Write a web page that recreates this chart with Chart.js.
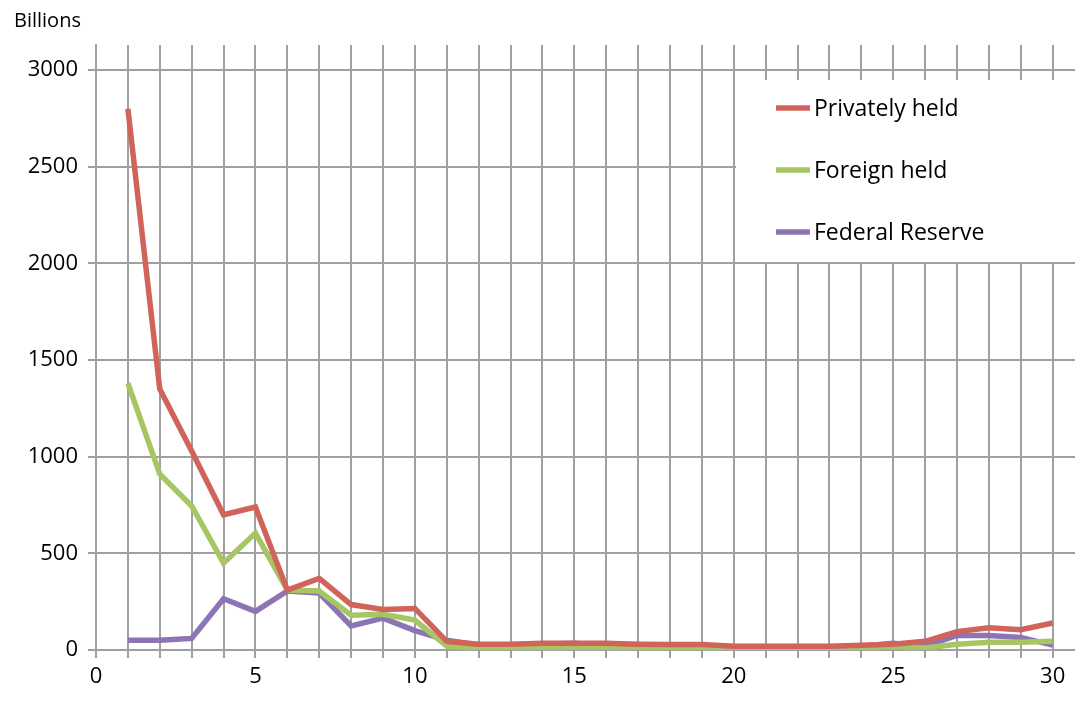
<!DOCTYPE html>
<html>
<head>
<meta charset="utf-8">
<script src="https://cdn.jsdelivr.net/npm/chart.js@4"></script>
<style>
  html, body { margin: 0; padding: 0; background: #fff; }
  #wrap { width: 1075px; height: 706px; position: relative; }
</style>
</head>
<body>
<div id="wrap"><canvas id="c"></canvas></div>
<script>
// 橫軸：年期 1..30
const years = Array.from({ length: 30 }, (_, i) => i + 1);
const privatelyHeld = [2800, 1350, 1030, 700, 740, 310, 370, 235, 210, 215, 45, 30, 30, 35, 35, 35, 30, 28, 28, 20, 20, 20, 20, 25, 30, 45, 95, 115, 105, 140];
const foreignHeld = [1380, 910, 745, 450, 605, 310, 305, 180, 185, 155, 20, 10, 10, 10, 10, 10, 10, 10, 10, 10, 10, 10, 10, 10, 20, 10, 30, 40, 40, 45];
const federalReserve = [50, 50, 60, 265, 200, 305, 295, 125, 165, 100, 50, 25, 25, 30, 35, 20, 20, 20, 15, 15, 15, 15, 15, 20, 35, 20, 75, 75, 65, 25];
const yTicks = [0, 500, 1000, 1500, 2000, 2500, 3000];
const xTicks = [0, 5, 10, 15, 20, 25, 30];

const FONT = '"Open Sans", "Liberation Sans", sans-serif';

function toPoints(arr) {
    return arr.map((v, i) => ({ x: years[i], y: v }));
}

// 自訂圖例與座標軸標題
const extras = {
    id: 'extras',
    afterDraw(chart) {
        const ctx = chart.ctx;
        ctx.save();
        ctx.font = '20px ' + FONT;
        ctx.fillStyle = '#000';
        ctx.textBaseline = 'middle';
        ctx.fillText('Billions', 14, 21);

        // 圖例
        ctx.fillStyle = '#fff';
        ctx.fillRect(736, 80, 339, 182);
        ctx.font = '23px ' + FONT;
        chart.data.datasets.forEach((ds, i) => {
            const y = 108 + i * 62;
            ctx.strokeStyle = ds.borderColor;
            ctx.lineWidth = 5.5;
            ctx.beginPath();
            ctx.moveTo(776, y);
            ctx.lineTo(810, y);
            ctx.stroke();
            ctx.fillStyle = '#000';
            ctx.fillText(ds.label, 814, y + 1);
        });
        ctx.restore();
    }
};

new Chart(document.getElementById('c'), {
    type: 'line',
    data: {
        datasets: [
            { label: 'Privately held', data: toPoints(privatelyHeld), borderColor: '#d0635a' },
            { label: 'Foreign held', data: toPoints(foreignHeld), borderColor: '#a6c663' },
            { label: 'Federal Reserve', data: toPoints(federalReserve), borderColor: '#8d74b3' }
        ].map(d => Object.assign(d, { borderWidth: 5.5, pointRadius: 0, tension: 0, fill: false }))
    },
    options: {
        responsive: true,
        maintainAspectRatio: false,
        animation: false,
        layout: { padding: { top: 45, right: 0, left: 0, bottom: 0 } },
        plugins: { legend: { display: false }, tooltip: { enabled: false } },
        scales: {
            x: {
                type: 'linear',
                min: 0,
                max: 30.7,
                afterBuildTicks: axis => {
                    axis.ticks = Array.from({ length: 31 }, (_, i) => ({ value: i }));
                },
                afterFit: axis => { axis.height = 56; },
                ticks: {
                    autoSkip: false,
                    maxRotation: 0,
                    color: '#000',
                    font: { size: 22, family: FONT },
                    padding: 6,
                    callback: v => (xTicks.includes(v) ? String(v) : '')
                },
                grid: { color: '#a0a0a0', lineWidth: 2, tickLength: 8, drawTicks: true },
                border: { color: '#a0a0a0', width: 2 }
            },
            y: {
                min: 0,
                max: 3130,
                afterBuildTicks: axis => {
                    axis.ticks = yTicks.map(v => ({ value: v }));
                },
                afterFit: axis => { axis.width = 96; },
                ticks: {
                    color: '#000',
                    font: { size: 22, family: FONT },
                    padding: 10,
                    callback: v => String(v)
                },
                grid: { color: '#a0a0a0', lineWidth: 2, tickLength: 8 },
                border: { color: '#a0a0a0', width: 2 }
            }
        }
    },
    plugins: [extras]
});
</script>
</body>
</html>
